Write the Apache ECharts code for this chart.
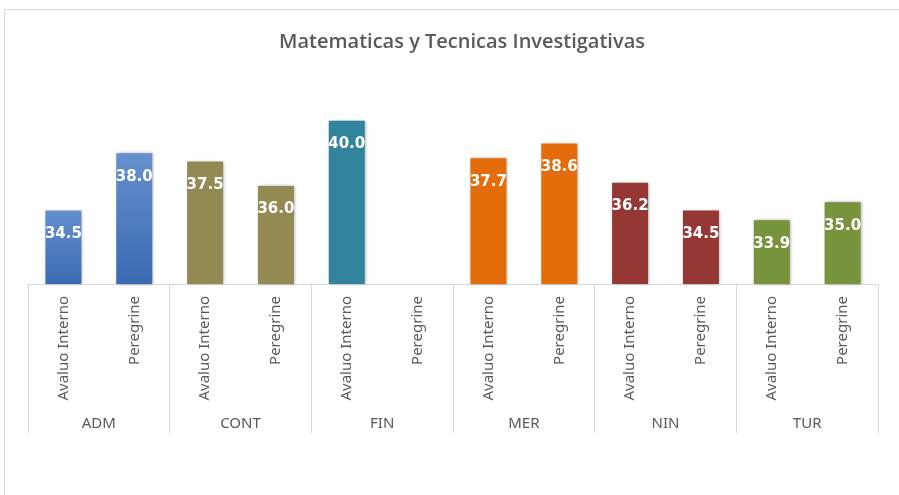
<!DOCTYPE html>
<html>
<head>
<meta charset="utf-8">
<script src="https://cdn.jsdelivr.net/npm/echarts@6/dist/echarts.min.js"></script>
<style>
  html, body { margin: 0; padding: 0; background: #fff; }
  #chart { width: 899px; height: 495px; }
</style>
</head>
<body>
<div id="chart"></div>
<script>
const groups = ['ADM', 'CONT', 'FIN', 'MER', 'NIN', 'TUR']
const sources = ['Avaluo Interno', 'Peregrine']
const values = [34.5, 38.0, 37.5, 36.0, 40.0, null, 37.7, 38.6, 36.2, 34.5, 33.9, 35.0]
const groupColors = [
  ['#6590cd', '#3a6ab2'],
  ['#938953', '#938953'],
  ['#31849b', '#31849b'],
  ['#e46c0a', '#e46c0a'],
  ['#953735', '#953735'],
  ['#77933c', '#77933c']
]

const categories = []
groups.forEach(() => sources.forEach(s => categories.push(s)))

const barData = values.map((v, i) => {
  const c = groupColors[Math.floor(i / 2)]
  return {
    value: v === null ? '-' : v,
    itemStyle: {
      color: new echarts.graphic.LinearGradient(0, 0, 0, 1, [
        { offset: 0, color: c[0] },
        { offset: 1, color: c[1] }
      ])
    }
  }
})

const chart = echarts.init(document.getElementById('chart'))
chart.setOption({
  animation: false,
  graphic: [{
    type: 'rect',
    shape: { x: 4.5, y: 9.5, width: 1000, height: 600 },
    style: { fill: 'none', stroke: '#d9d9d9', lineWidth: 1 },
    silent: true
  }],
  title: {
    text: 'Matematicas y Tecnicas Investigativas',
    left: 457,
    textAlign: 'center',
    top: 27,
    textStyle: {
      fontFamily: 'Open Sans',
      fontSize: 20,
      fontWeight: 600,
      color: '#595959'
    }
  },
  grid: { left: 28, right: 21, top: 88, bottom: 211 },
  xAxis: [{
    type: 'category',
    data: categories,
    position: 'bottom',
    axisLine: { lineStyle: { color: '#d9d9d9', width: 1 } },
    axisTick: { show: false },
    axisLabel: {
      rotate: 90,
      interval: 0,
      margin: 12,
      fontFamily: 'Noto Sans',
      fontSize: 15,
      color: '#595959'
    }
  }, {
    type: 'category',
    data: groups,
    position: 'bottom',
    axisLine: { show: false },
    axisTick: { show: true, interval: 0, length: 149, lineStyle: { color: '#d9d9d9' } },
    axisLabel: {
      interval: 0,
      margin: 132,
      fontFamily: 'Noto Sans',
      fontSize: 15,
      color: '#595959'
    }
  }],
  yAxis: {
    type: 'value',
    min: 30,
    max: 42,
    show: false,
    splitLine: { show: false }
  },
  series: [{
    type: 'bar',
    xAxisIndex: 0,
    data: barData,
    barWidth: 36,
    itemStyle: {
      shadowBlur: 3,
      shadowColor: 'rgba(0,0,0,0.35)',
      shadowOffsetX: 1,
      shadowOffsetY: 0
    },
    label: {
      show: true,
      position: 'insideTop',
      distance: 16,
      formatter: p => p.value.toFixed(1),
      fontFamily: 'DejaVu Sans',
      fontWeight: 'bold',
      fontSize: 15,
      color: '#fff'
    }
  }]
})
</script>
</body>
</html>
